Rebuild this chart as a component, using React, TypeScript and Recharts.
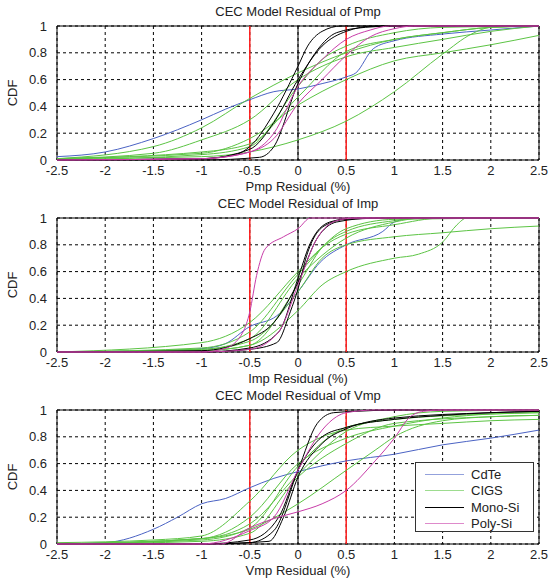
import { LineChart, Line, XAxis, YAxis, CartesianGrid, ReferenceLine, ReferenceArea } from "recharts";

type Pt = [number, number];

const xTicks = [-2.5, -2, -1.5, -1, -0.5, 0, 0.5, 1, 1.5, 2, 2.5];
const yTicks = [0, 0.2, 0.4, 0.6, 0.8, 1];
const limits = [-0.5, 0.5];

const typeNames = ["CdTe", "CIGS", "Mono-Si", "Poly-Si"];
const typeColors = ["#4b63c4", "#5cc444", "#000000", "#c83ca8"];

// ---- Pmp residual CDFs
const pmpCdTe: Pt[][] = [
  [[-2.5, 0.025], [-2, 0.06], [-1.5, 0.16], [-1, 0.3], [-0.75, 0.38], [-0.5, 0.45], [-0.25, 0.51], [0, 0.53], [0.25, 0.57], [0.5, 0.62], [0.6, 0.65], [0.78, 0.83], [1, 0.89], [1.5, 0.94], [2, 0.97], [2.5, 1]],
];
const pmpCigs: Pt[][] = [
  [[-2.5, 0.01], [-1.5, 0.1], [-1, 0.24], [-0.5, 0.46], [0, 0.65], [0.5, 0.8], [1, 0.9], [1.5, 0.95], [2, 0.99], [2.5, 1]],
  [[-2.5, 0.01], [-1, 0.025], [-0.5, 0.06], [0, 0.15], [0.5, 0.29], [1, 0.51], [1.5, 0.79], [1.8, 0.94], [2, 0.99], [2.5, 1]],
  [[-2.5, 0.01], [-1, 0.05], [-0.5, 0.16], [0, 0.41], [0.5, 0.6], [1, 0.74], [1.5, 0.8], [2, 0.86], [2.5, 0.93]],
  [[-2.5, 0.01], [-1.5, 0.05], [-1, 0.15], [-0.5, 0.3], [0, 0.6], [0.5, 0.77], [1, 0.84], [1.5, 0.9], [2, 0.96], [2.5, 1]],
  [[-2.5, 0.01], [-1, 0.06], [-0.5, 0.12], [0, 0.47], [0.5, 0.81], [1, 0.9], [1.5, 0.95], [2, 0.99], [2.5, 1]],
  [[-2.5, 0.0], [-1, 0.04], [-0.5, 0.1], [0, 0.55], [0.25, 0.75], [0.5, 0.85], [1, 0.95], [1.5, 0.99], [2.5, 1]],
];
const pmpMono: Pt[][] = [
  [[-2.5, 0], [-1, 0.01], [-0.65, 0.04], [-0.5, 0.1], [-0.25, 0.35], [0, 0.7], [0.1, 0.85], [0.25, 0.96], [0.45, 1], [2.5, 1]],
  [[-2.5, 0], [-1, 0.01], [-0.5, 0.08], [-0.25, 0.28], [0, 0.6], [0.25, 0.85], [0.5, 0.96], [0.8, 1], [2.5, 1]],
  [[-2.5, 0], [-1, 0], [-0.4, 0.02], [-0.25, 0.1], [0, 0.57], [0.2, 0.82], [0.4, 0.95], [0.7, 0.99], [1, 1], [2.5, 1]],
];
const pmpPoly: Pt[][] = [
  [[-2.5, 0], [-1, 0.01], [-0.5, 0.06], [-0.25, 0.2], [0, 0.55], [0.25, 0.75], [0.5, 0.9], [0.75, 0.97], [0.95, 1], [2.5, 1]],
  [[-2.5, 0], [-1, 0.01], [-0.5, 0.06], [-0.25, 0.16], [0, 0.42], [0.25, 0.6], [0.5, 0.78], [0.75, 0.92], [1, 0.98], [1.2, 1], [2.5, 1]],
];

// ---- Imp residual CDFs
const impCdTe: Pt[][] = [
  [[-2.5, 0], [-1.5, 0.01], [-1, 0.025], [-0.76, 0.06], [-0.5, 0.19], [-0.22, 0.27], [0, 0.45], [0.23, 0.67], [0.5, 0.8], [0.88, 0.9], [1, 0.97], [1.2, 1], [2.5, 1]],
];
const impCigs: Pt[][] = [
  [[-2.5, 0], [-1, 0.01], [-0.5, 0.05], [0, 0.31], [0.25, 0.5], [0.5, 0.6], [1, 0.7], [1.25, 0.73], [1.5, 0.82], [1.65, 0.95], [1.75, 1], [2.5, 1]],
  [[-2.5, 0], [-1, 0.02], [-0.5, 0.08], [0, 0.45], [0.25, 0.7], [0.5, 0.8], [1, 0.86], [1.5, 0.89], [2, 0.92], [2.5, 0.94]],
  [[-2.5, 0], [-1, 0.07], [-0.5, 0.22], [0, 0.6], [0.25, 0.78], [0.5, 0.88], [1, 0.95], [1.5, 1], [2.5, 1]],
  [[-2.5, 0], [-1, 0.02], [-0.5, 0.1], [0, 0.55], [0.5, 0.85], [1, 0.97], [1.3, 1], [2.5, 1]],
  [[-2.5, 0], [-1, 0.01], [-0.5, 0.05], [0, 0.5], [0.25, 0.78], [0.5, 0.9], [1, 0.98], [1.3, 1], [2.5, 1]],
  [[-2.5, 0], [-1, 0.03], [-0.5, 0.15], [0, 0.58], [0.5, 0.92], [1, 0.99], [2.5, 1]],
];
const impMono: Pt[][] = [
  [[-2.5, 0], [-1, 0], [-0.5, 0.02], [-0.22, 0.07], [-0.08, 0.3], [0, 0.47], [0.09, 0.72], [0.27, 0.94], [0.5, 0.99], [1, 1], [2.5, 1]],
  [[-2.5, 0], [-1, 0.01], [-0.5, 0.1], [-0.25, 0.22], [0, 0.52], [0.2, 0.85], [0.4, 0.97], [0.8, 1], [2.5, 1]],
  [[-2.5, 0], [-1, 0], [-0.5, 0.03], [-0.2, 0.15], [0, 0.55], [0.12, 0.8], [0.33, 0.97], [0.6, 1], [2.5, 1]],
];
const impPoly: Pt[][] = [
  [[-2.5, 0], [-1, 0], [-0.76, 0.025], [-0.57, 0.15], [-0.5, 0.3], [-0.43, 0.57], [-0.34, 0.77], [-0.15, 0.86], [0, 0.92], [0.13, 1], [2.5, 1]],
  [[-2.5, 0], [-1, 0], [-0.5, 0.02], [-0.2, 0.15], [0, 0.5], [0.2, 0.85], [0.4, 0.98], [0.6, 1], [2.5, 1]],
];

// ---- Vmp residual CDFs
const vmpCdTe: Pt[][] = [
  [[-2.5, 0], [-2, 0.01], [-1.5, 0.11], [-1.25, 0.2], [-1, 0.3], [-0.75, 0.34], [-0.5, 0.42], [-0.25, 0.49], [0, 0.54], [0.5, 0.62], [1, 0.67], [1.5, 0.74], [2, 0.79], [2.5, 0.85]],
];
const vmpCigs: Pt[][] = [
  [[-2.5, 0.01], [-1.5, 0.03], [-1, 0.06], [-0.5, 0.32], [0, 0.7], [0.25, 0.8], [0.5, 0.85], [1, 0.88], [1.5, 0.9], [2, 0.92], [2.5, 0.93]],
  [[-2.5, 0], [-1, 0.04], [-0.5, 0.2], [0, 0.6], [0.5, 0.79], [1, 0.88], [1.5, 0.94], [2, 0.97], [2.5, 0.98]],
  [[-2.5, 0], [-1, 0.04], [-0.5, 0.11], [0, 0.3], [0.5, 0.55], [0.8, 0.7], [1, 0.8], [1.5, 0.92], [2, 0.95], [2.5, 0.96]],
  [[-2.5, 0], [-1, 0.04], [-0.5, 0.15], [0, 0.52], [0.5, 0.84], [1, 0.95], [1.5, 0.99], [2.5, 1]],
  [[-2.5, 0], [-1, 0.03], [-0.5, 0.12], [0, 0.58], [0.5, 0.87], [1, 0.93], [2, 0.97], [2.5, 0.98]],
  [[-2.5, 0], [-1, 0.02], [-0.5, 0.08], [0, 0.5], [0.5, 0.75], [1, 0.9], [2, 0.95], [2.5, 0.96]],
];
const vmpMono: Pt[][] = [
  [[-2.5, 0], [-1, 0], [-0.5, 0.01], [-0.25, 0.1], [0, 0.55], [0.2, 0.9], [0.37, 0.98], [0.6, 0.99], [1, 1], [2.5, 1]],
  [[-2.5, 0], [-1, 0], [-0.5, 0.03], [-0.2, 0.2], [0, 0.55], [0.25, 0.8], [0.5, 0.87], [1, 0.93], [1.5, 0.96], [2, 0.98], [2.5, 0.99]],
  [[-2.5, 0], [-1, 0], [-0.3, 0.02], [-0.15, 0.2], [0, 0.5], [0.25, 0.75], [0.5, 0.86], [1, 0.94], [2, 0.98], [2.5, 0.99]],
];
const vmpPoly: Pt[][] = [
  [[-2.5, 0], [-0.8, 0], [-0.5, 0.12], [-0.25, 0.19], [0, 0.24], [0.25, 0.3], [0.5, 0.4], [0.8, 0.62], [1, 0.79], [1.15, 0.94], [1.3, 0.99], [1.5, 1], [2.5, 1]],
  [[-2.5, 0], [-1, 0], [-0.5, 0.1], [-0.25, 0.2], [0, 0.55], [0.25, 0.85], [0.4, 0.95], [0.5, 0.98], [0.8, 1], [2.5, 1]],
];

const font = "'Liberation Sans', Arial, sans-serif";
const tickStyle = { fontSize: 13, fill: "#222", fontFamily: font };

const fmtY = (v: number) => (v === 0 ? "0" : v === 1 ? "1" : v.toFixed(1));

type PanelProps = { title: string; xLabel: string; groups: Pt[][][]; legend?: boolean };

const Panel = ({ title, xLabel, groups, legend }: PanelProps) => {
  const xLabelContent = (props: any) => {
    const vb = props.viewBox || { x: 57, y: 160, width: 482, height: 32 };
    return (
      <text x={vb.x + vb.width / 2} y={vb.y + 31} textAnchor="middle" fontSize={13} fill="#222" fontFamily={font}>
        {xLabel}
      </text>
    );
  };
  return (
    <div style={{ position: "relative", width: 550, height: 192 }}>
      <div
        style={{
          position: "absolute",
          left: 57,
          width: 482,
          top: 4,
          textAlign: "center",
          fontFamily: font,
          fontSize: 13,
          color: "#222",
          lineHeight: "15px",
        }}
      >
        {title}
      </div>
      <LineChart width={550} height={196} margin={{ top: 26, right: 11, bottom: 4, left: 0 }}>
        <CartesianGrid stroke="#000" strokeDasharray="3 3" strokeWidth={1} />
        <XAxis
          type="number"
          dataKey="x"
          domain={[-2.5, 2.5]}
          ticks={xTicks}
          allowDataOverflow
          height={32}
          tickLine={false}
          axisLine={false}
          tick={tickStyle}
          tickMargin={0}
          label={xLabelContent}
        />
        <YAxis
          type="number"
          dataKey="y"
          domain={[0, 1]}
          ticks={yTicks}
          width={57}
          tickLine={false}
          axisLine={false}
          tick={tickStyle}
          tickFormatter={fmtY}
          tickMargin={4}
          label={{ value: "CDF", angle: -90, position: "center", dx: -16, style: { fontSize: 13, fill: "#222", fontFamily: font } }}
        />
        <ReferenceLine x={0} stroke="#000" strokeWidth={1} />
        {limits.map((v) => (
          <ReferenceLine key={v} x={v} stroke="#ff1e1e" strokeWidth={1.5} />
        ))}
        {groups.map((curves, gi) =>
          curves.map((pts, ci) => (
            <Line
              key={`${gi}-${ci}`}
              data={pts.map(([x, y]) => ({ x, y }))}
              dataKey="y"
              type="monotone"
              stroke={typeColors[gi]}
              strokeWidth={1}
              dot={false}
              activeDot={false}
              isAnimationActive={false}
            />
          ))
        )}
        <ReferenceArea x1={-2.5} x2={2.5} y1={0} y2={1} fill="none" stroke="#000" strokeWidth={1} strokeOpacity={1} />
      </LineChart>
      {legend && (
        <div
          style={{
            position: "absolute",
            left: 415,
            top: 78,
            width: 119,
            height: 70,
            border: "1px solid #333",
            background: "#fff",
            fontFamily: font,
            fontSize: 13,
            color: "#222",
            paddingTop: 3,
            boxSizing: "border-box",
          }}
        >
          {typeNames.map((n, i) => (
            <div key={n} style={{ display: "flex", alignItems: "center", height: 16.5 }}>
              <div style={{ width: 39, height: 0, borderTop: `1.5px solid ${typeColors[i]}`, marginLeft: 9, marginRight: 7, opacity: i === 2 ? 1 : 0.6 }} />
              <span>{n}</span>
            </div>
          ))}
        </div>
      )}
    </div>
  );
};

export default function App() {
  return (
    <div style={{ position: "absolute", left: 0, top: 0, width: 550, height: 578, background: "#fff" }}>
      <Panel title="CEC Model Residual of Pmp" xLabel="Pmp Residual (%)" groups={[pmpCdTe, pmpCigs, pmpMono, pmpPoly]} />
      <Panel title="CEC Model Residual of Imp" xLabel="Imp Residual (%)" groups={[impCdTe, impCigs, impMono, impPoly]} />
      <Panel title="CEC Model Residual of Vmp" xLabel="Vmp Residual (%)" groups={[vmpCdTe, vmpCigs, vmpMono, vmpPoly]} legend />
    </div>
  );
}
